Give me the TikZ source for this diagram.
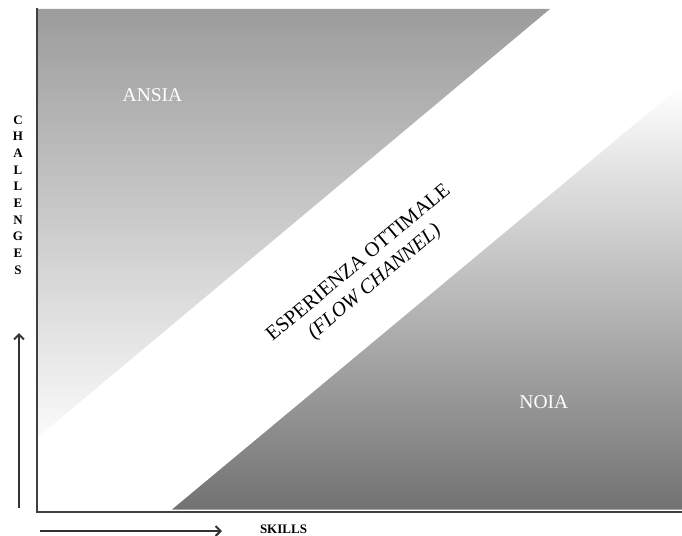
\documentclass[tikz,border=0pt]{standalone}
\usepackage{fontspec}
\setmainfont{Liberation Serif}
\usetikzlibrary{arrows.meta}
\definecolor{axisc}{gray}{0.25}
\begin{document}
\begin{tikzpicture}[x=1pt,y=-1pt,
  zonelabel/.style={text=white,font=\fontsize{19.5}{22}\selectfont,anchor=base,inner sep=0pt},
  axlabel/.style={font=\bfseries\fontsize{13}{16.7}\selectfont,inner sep=0pt,align=center},
  axisline/.style={draw=axisc,line width=1.5pt},
  axarrow/.style={draw=black!80,line width=1.3pt,-{Straight Barb[length=5pt,width=10pt,line width=2pt]}}]
\useasboundingbox (0,0) rectangle (682,535);
% ANSIA zone
\shade[top color={rgb,255:red,156;green,156;blue,156},middle color={rgb,255:red,197;green,197;blue,197},bottom color={rgb,255:red,250;green,250;blue,250}]
  (38,9) -- (550,9) -- (38,437) -- cycle;
% NOIA zone
\shade[top color=white,middle color={rgb,255:red,172;green,172;blue,172},bottom color={rgb,255:red,114;green,114;blue,114}]
  (172,509.5) -- (682,85) -- (682,509.5) -- cycle;
% axes
\coordinate (o) at (37,512);
\coordinate (ytop) at (37,8);
\coordinate (xend) at (682,512);
\draw[axisline] (ytop) -- (o) -- (xend);
% labels
\node[zonelabel] (ansia) at (152.5,101) {ANSIA};
\node[zonelabel] (noia) at (543.8,408) {NOIA};
\node[rotate=40,align=center,inner sep=0pt,font=\fontsize{20.5}{25}\selectfont] (flow) at (367,273) {ESPERIENZA OTTIMALE\\\textit{(FLOW CHANNEL)}};
\node[axlabel] (chal) at (18,195) {C\\H\\A\\L\\L\\E\\N\\G\\E\\S};
\node[axlabel,anchor=base] (skills) at (283.5,533.5) {SKILLS};
% arrows
\coordinate (ya) at (19,508);
\coordinate (yb) at (19,333);
\coordinate (xa) at (40,531);
\coordinate (xb) at (222,531);
\draw[axarrow] (ya) -- (yb);
\draw[axarrow] (xa) -- (xb);
\end{tikzpicture}
\end{document}
